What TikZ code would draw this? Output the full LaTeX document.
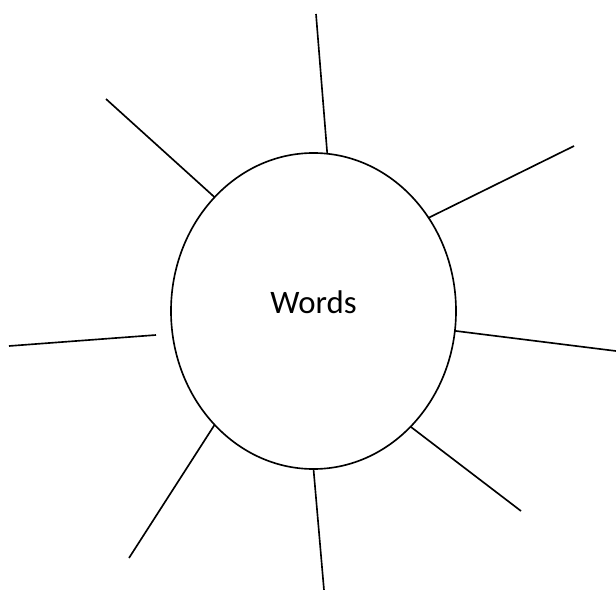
\documentclass[tikz,border=0pt]{standalone}
\usepackage{fontspec}
\setmainfont{Carlito}
\usetikzlibrary{shapes.geometric}

\begin{document}
\begin{tikzpicture}[x=0.03cm,y=-0.03cm,line width=1.4pt,every node/.style={font=\fontsize{28}{32}\selectfont}]
\useasboundingbox (0,0) rectangle (616,590);
\node[ellipse,draw,inner sep=0pt,outer sep=0pt,minimum width=8.55cm,minimum height=9.48cm] (w) at (313.5,311) {};
\node (lbl) at (313.5,302) {Words};
\coordinate (n) at (316,14);
\coordinate (nw) at (106,99);
\coordinate (ne) at (574,146);
\coordinate (wi) at (156,335);
\coordinate (wo) at (9,346);
\coordinate (e) at (616,351);
\coordinate (se) at (521,511);
\coordinate (s) at (324,590);
\coordinate (sw) at (129,558);
\draw (w.85.4) -- (n);
\draw (w.131.4) -- (nw);
\draw (w.39.1) -- (ne);
\draw (wi) -- (wo);
\draw (w.-8.7) -- (e);
\draw (w.-50.2) -- (se);
\draw (w.-90) -- (s);
\draw (w.229.2) -- (sw);
\end{tikzpicture}
\end{document}
